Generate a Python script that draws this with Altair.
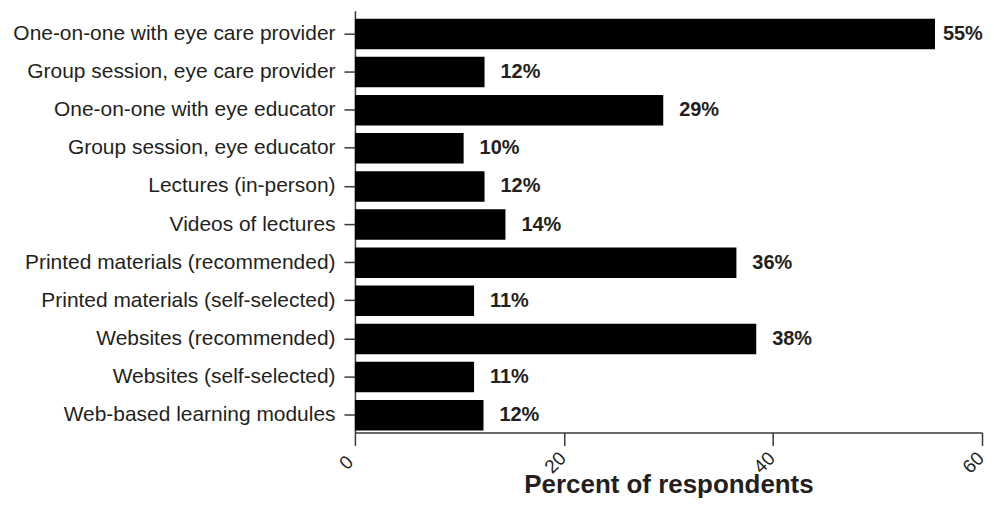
import altair as alt
import pandas as pd

categories = [
    "One-on-one with eye care provider",
    "Group session, eye care provider",
    "One-on-one with eye educator",
    "Group session, eye educator",
    "Lectures (in-person)",
    "Videos of lectures",
    "Printed materials (recommended)",
    "Printed materials (self-selected)",
    "Websites (recommended)",
    "Websites (self-selected)",
    "Web-based learning modules",
]
values = [55.5, 12.4, 29.5, 10.4, 12.4, 14.4, 36.5, 11.4, 38.4, 11.4, 12.3]
labels = ["55%", "12%", "29%", "10%", "12%", "14%", "36%", "11%", "38%", "11%", "12%"]
x_ticks = [0, 20, 40, 60]

df = pd.DataFrame({"category": categories, "value": values, "label": labels})

FONT = "Liberation Sans"
TXT = "#231f20"
AX = "#3a3a3a"

y_enc = alt.Y(
    "category:N",
    sort=categories,
    scale=alt.Scale(paddingInner=0.2, paddingOuter=0.13, align=0.8),
    axis=alt.Axis(
        title=None,
        labelFontSize=21,
        labelFont=FONT,
        labelColor=TXT,
        labelPadding=9,
        labelLimit=0,
        tickSize=11,
        tickWidth=1.5,
        tickColor=AX,
        domainColor=AX,
        domainWidth=1.5,
    ),
)

x_enc = alt.X(
    "value:Q",
    scale=alt.Scale(domain=[0, 60], nice=False),
    axis=alt.Axis(
        values=x_ticks,
        grid=False,
        title="Percent of respondents",
        titleFont=FONT,
        titleFontSize=26,
        titleFontWeight="bold",
        titleColor=TXT,
        titleBaseline="alphabetic",
        titleY=60,
        labelAngle=315,
        labelAlign="center",
        labelBaseline="middle",
        labelPadding=17,
        labelOffset=-9,
        labelFlush=False,
        labelOverlap=False,
        labelFont=FONT,
        labelFontSize=19,
        labelColor=TXT,
        tickSize=13,
        tickWidth=1.5,
        tickColor=AX,
        domainColor=AX,
        domainWidth=1.5,
    ),
)

base = alt.Chart(df)

bars = base.mark_bar(color="#000000").encode(x=x_enc, y=y_enc)

text_main = base.transform_filter("datum.value <= 50").mark_text(
    align="left", baseline="middle", dx=16, fontSize=20, fontWeight="bold",
    font=FONT, color=TXT,
).encode(x="value:Q", y=alt.Y("category:N", sort=categories), text="label:N")

text_top = base.transform_filter("datum.value > 50").mark_text(
    align="left", baseline="middle", dx=8, fontSize=20, fontWeight="bold",
    font=FONT, color=TXT,
).encode(x="value:Q", y=alt.Y("category:N", sort=categories), text="label:N")

chart = alt.layer(bars, text_main, text_top).properties(
    width=629,
    height=423,
    autosize=alt.AutoSizeParams(type="none"),
    padding={"left": 348, "top": 2, "right": 4, "bottom": 65},
).configure_view(stroke=None)

chart.save("out.html", embed_options={"renderer": "svg", "actions": False})
